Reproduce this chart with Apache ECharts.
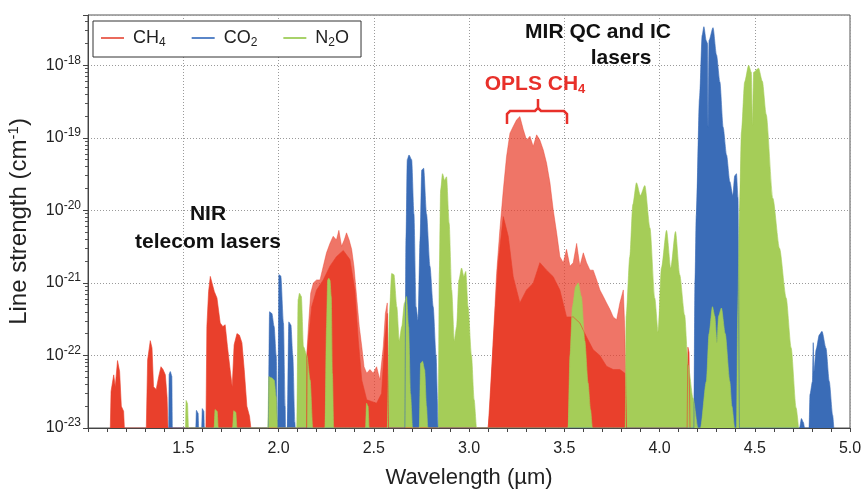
<!DOCTYPE html>
<html><head><meta charset="utf-8">
<script src="https://cdn.jsdelivr.net/npm/echarts@6/dist/echarts.min.js"></script>
<style>html,body{margin:0;padding:0;background:#fff}#c{width:862px;height:489px}</style>
</head><body><div id="c"></div>
<script>
// ---- data: [wavelength (µm), line strength (cm^-1)] envelope points ----
const CH4_LINES = [
 [2.147,1e-23],[2.149,1.07e-22],[2.157,2.5e-22],[2.169,7.2e-22],[2.183,1.0e-21],[2.2,1.1e-21],[2.218,1.1e-21],[2.235,1.7e-21],[2.252,2.6e-21],[2.27,3.5e-21],[2.287,4.4e-21],[2.304,3.9e-21],[2.317,5.3e-21],[2.331,3.2e-21],[2.345,3.9e-21],[2.357,4.9e-21],[2.371,3.9e-21],[2.384,2.9e-21],[2.396,1.7e-21],[2.41,6.5e-22],[2.424,2.5e-22],[2.437,1.33e-22],[2.449,7.0e-23],[2.463,5.7e-23],[2.48,6.4e-23],[2.497,5.7e-23],[2.515,7e-23],[2.532,4.6e-23],[2.55,1.33e-22],[2.561,3.8e-22],[2.571,5.3e-22],[2.577,1e-23],
 [3.1,1e-23],[3.11,1.8e-23],[3.127,1.6e-22],[3.145,1.36e-21],[3.162,5.4e-21],[3.18,1.9e-20],[3.197,5.5e-20],[3.215,1.16e-19],[3.232,1.43e-19],[3.25,1.77e-19],[3.267,1.96e-19],[3.285,1.3e-19],[3.302,9.3e-20],[3.32,1.05e-19],[3.337,7.6e-20],[3.355,1.1e-19],[3.372,9.3e-20],[3.39,6.8e-20],[3.407,4.5e-20],[3.425,2.4e-20],[3.442,1.02e-20],[3.46,4.9e-21],[3.477,2.3e-21],[3.495,1.9e-21],[3.512,2.9e-21],[3.53,1.7e-21],[3.547,1.9e-21],[3.565,3.5e-21],[3.582,1.7e-21],[3.6,2.6e-21],[3.617,1.9e-21],[3.635,1.5e-21],[3.652,1.5e-21],[3.67,1.1e-21],[3.687,8.0e-22],[3.705,6.5e-22],[3.722,5.3e-22],[3.74,4.3e-22],[3.757,3.4e-22],[3.775,3.1e-22],[3.792,5.3e-22],[3.81,8e-22],[3.818,2.2e-22],[3.827,1e-23]
];
const CH4_CORE = [
 [1.117,1e-23],[1.121,3.2e-23],[1.135,5.4e-23],[1.143,3.7e-23],[1.155,8.5e-23],[1.166,6.0e-23],[1.175,2.0e-23],[1.187,1.7e-23],[1.191,1e-23],
 [1.306,1e-23],[1.313,8.7e-23],[1.327,1.6e-22],[1.336,1.27e-22],[1.344,3.7e-23],[1.358,3.4e-23],[1.371,5.1e-23],[1.383,7.0e-23],[1.394,6.4e-23],[1.406,5.4e-23],[1.415,2.7e-23],[1.42,1e-23],
 [1.619,1e-23],[1.624,2.5e-22],[1.633,7.6e-22],[1.642,1.23e-21],[1.652,1.3e-21],[1.663,7.6e-22],[1.677,6.2e-22],[1.694,2.8e-22],[1.708,2.5e-22],[1.72,2.65e-22],[1.732,1.33e-22],[1.746,6.4e-23],[1.757,3.7e-23],[1.767,1.4e-22],[1.782,2.0e-22],[1.795,1.9e-22],[1.808,1.5e-22],[1.82,6.4e-23],[1.834,2.0e-23],[1.848,1.45e-23],[1.855,1e-23],
 [2.148,1e-23],[2.15,1.07e-22],[2.174,4.7e-22],[2.2,8e-22],[2.235,1.1e-21],[2.27,1.7e-21],[2.304,2.3e-21],[2.34,2.8e-21],[2.375,2.1e-21],[2.401,8e-22],[2.419,1.6e-22],[2.437,4.6e-23],[2.463,2.45e-23],[2.515,2.2e-23],[2.541,3e-23],[2.558,1.6e-22],[2.571,3.8e-22],[2.577,1e-23],
 [3.101,1e-23],[3.127,1.48e-22],[3.153,1.9e-21],[3.18,8.2e-21],[3.206,4.4e-21],[3.232,1.22e-21],[3.267,5.3e-22],[3.302,8e-22],[3.337,9.9e-22],[3.372,1.9e-21],[3.407,1.5e-21],[3.442,1.22e-21],[3.477,8e-22],[3.512,3.4e-22],[3.547,3.4e-22],[3.582,2.8e-22],[3.617,1.8e-22],[3.652,1.2e-22],[3.687,1.0e-22],[3.722,7.1e-23],[3.757,6.4e-23],[3.792,6.4e-23],[3.818,5.7e-23],[3.827,1e-23],
 [4.145,1e-23],[4.149,1.3e-22],[4.155,1.1e-22],[4.16,1e-23]
];
const CO2 = [
 [1.424,1e-23],[1.426,5.5e-23],[1.432,6.0e-23],[1.44,5.2e-23],[1.443,1e-23],
 [1.566,1e-23],[1.569,1.75e-23],[1.578,1.6e-23],[1.581,1e-23],
 [1.597,1e-23],[1.6,1.85e-23],[1.608,1.7e-23],[1.611,1e-23],
 [1.946,1e-23],[1.953,4.0e-22],[1.965,3.8e-22],[1.977,2.5e-22],[1.988,1e-22],[1.995,1.3e-23],
 [1.997,1e-23],[2.002,1.3e-21],[2.012,1.25e-21],[2.026,2.8e-22],[2.035,2e-23],[2.037,1e-23],
 [2.046,1e-23],[2.054,2.9e-22],[2.065,2.65e-22],[2.075,1e-22],[2.086,1.2e-23],[2.088,1e-23],
 [2.663,1e-23],[2.669,3.9e-21],[2.676,5.0e-20],[2.685,5.8e-20],[2.699,5e-20],[2.711,8.9e-21],[2.722,4.7e-22],[2.733,3e-22],[2.743,3.9e-21],[2.752,3.6e-20],[2.762,3.8e-20],[2.777,8.9e-21],[2.795,1.7e-21],[2.812,4.7e-22],[2.827,1.0e-22],[2.839,1e-23],
 [4.18,1e-23],[4.186,1e-21],[4.193,8.7e-21],[4.21,3.5e-19],[4.224,2.6e-18],[4.233,3.4e-18],[4.245,2.2e-18],[4.252,2.0e-18],[4.256,1.4e-19],[4.26,2.2e-18],[4.281,3.3e-18],[4.299,1.4e-18],[4.317,5.9e-19],[4.334,1.4e-19],[4.352,5.8e-20],[4.369,2.5e-20],[4.385,1.6e-20],[4.395,3e-20],[4.404,3.2e-20],[4.412,1.5e-20],[4.42,1e-23],
 [4.735,1e-23],[4.745,1.35e-23],[4.755,1.2e-23],[4.762,1e-23],
 [4.785,1e-23],[4.79,2.9e-23],[4.803,4.4e-23],[4.807,1.5e-22],[4.811,6e-23],[4.822,1.2e-22],[4.839,1.93e-22],[4.853,2.15e-22],[4.874,1.26e-22],[4.891,4.4e-23],[4.909,1.5e-23],[4.915,1e-23]
];
const N2O = [
 [1.512,1e-23],[1.515,2.4e-23],[1.522,2.2e-23],[1.528,1e-23],
 [1.662,1e-23],[1.667,1.8e-23],[1.678,1.7e-23],[1.684,1e-23],
 [1.759,1e-23],[1.765,1.73e-23],[1.776,1.65e-23],[1.782,1e-23],
 [1.944,1e-23],[1.949,5.1e-23],[1.965,4.9e-23],[1.977,4.6e-23],[1.988,2.7e-23],[1.996,1e-23],
 [2.096,1e-23],[2.103,5.9e-22],[2.11,7.2e-22],[2.12,6.5e-22],[2.131,1.33e-22],[2.149,1.0e-22],[2.166,4.6e-23],[2.18,1e-23],
 [2.244,1e-23],[2.252,2.5e-22],[2.258,1.1e-21],[2.264,1.16e-21],[2.27,1.1e-21],[2.277,6.5e-22],[2.283,5.7e-23],[2.29,1e-23],
 [2.457,1e-23],[2.462,2.2e-23],[2.47,2e-23],[2.476,1e-23],
 [2.571,1e-23],[2.582,3.8e-22],[2.594,1.35e-21],[2.606,1.3e-21],[2.621,4.7e-22],[2.634,1.6e-22],[2.647,2.5e-22],[2.661,5.3e-22],[2.672,6.5e-22],[2.683,2.5e-22],[2.693,3.0e-23],[2.704,1e-23],
 [2.739,1e-23],[2.746,7.8e-23],[2.756,8.3e-23],[2.767,6.4e-23],[2.777,2.0e-23],[2.784,1e-23],
 [2.839,1e-23],[2.844,1.35e-21],[2.851,1.9e-20],[2.861,3.2e-20],[2.872,2.6e-20],[2.882,2.9e-20],[2.896,6.6e-21],[2.909,8.0e-22],[2.923,1.6e-22],[2.935,2.5e-22],[2.947,1.1e-21],[2.961,1.6e-21],[2.973,1.23e-21],[2.983,1.44e-21],[2.995,4.7e-22],[3.013,1.0e-22],[3.027,2.45e-23],[3.04,1e-23],
 [3.52,1e-23],[3.53,1e-22],[3.543,4.7e-22],[3.56,8.9e-22],[3.573,1.0e-21],[3.59,6.5e-22],[3.608,1.6e-22],[3.625,4.2e-23],[3.638,1.8e-23],[3.648,1e-23],
 [3.82,1e-23],[3.825,3.5e-22],[3.844,2.3e-21],[3.86,1.2e-20],[3.879,2.4e-20],[3.9,1.6e-20],[3.923,2.2e-20],[3.95,5.7e-21],[3.975,6.2e-22],[3.993,2.1e-22],[4.01,1.6e-21],[4.037,5.3e-21],[4.059,1.6e-21],[4.084,5.1e-21],[4.106,1.3e-21],[4.132,3.6e-22],[4.15,7.4e-23],[4.176,2.6e-23],[4.202,1e-23],
 [4.215,1e-23],[4.246,4.4e-23],[4.26,2e-22],[4.278,4.7e-22],[4.29,3.5e-22],[4.302,1.5e-22],[4.31,3.5e-22],[4.325,4.5e-22],[4.345,2e-22],[4.369,4.4e-23],[4.38,2e-23],[4.395,1e-23],
 [4.405,1e-23],[4.41,3e-22],[4.42,1e-20],[4.43,1.2e-19],[4.447,5.9e-19],[4.468,1.0e-18],[4.482,8e-19],[4.488,1.5e-19],[4.494,8e-19],[4.52,9.1e-19],[4.54,6e-19],[4.56,2.1e-19],[4.595,1.47e-20],[4.63,3.0e-21],[4.665,6.2e-22],[4.691,1.28e-22],[4.717,1.9e-23],[4.73,1e-23]
];
const SPECIES = ['CH4', 'CO2', 'N2O'];
const SPECIES_LABELS = {CH4: 'CH{s|4}', CO2: 'CO{s|2}', N2O: 'N{s|2}O'};
const X_LABELS = [1.5, 2.0, 2.5, 3.0, 3.5, 4.0, 4.5, 5.0];
const Y_MIN = 1e-23, Y_MAX = 4.93e-18;
const Y_DECADES = [-23, -22, -21, -20, -19, -18];
const MINOR_MULTIPLES = [2, 3, 4, 5, 6, 7, 8, 9];

// ECharts' log scale rounds tick values to 20 decimals, so the axis runs in units of 1e-24 cm^-1;
// tick labels convert back to the true exponent.
const UNIT_EXP = -24;
const U = Math.pow(10, UNIT_EXP);
const toUnits = pts => pts.map(([x, s]) => [x, s / U]);
const minorTicks = [];
Y_DECADES.forEach(e => MINOR_MULTIPLES.forEach(m => {
  const v = m * Math.pow(10, e);
  if (v < Y_MAX) minorTicks.push(v / U);
}));

const FONT = '"Liberation Sans", Arial, Helvetica, sans-serif';
const RED = '#e9402c', BLUE = '#3a6cb7', GREEN = '#a5cd58';

function band(name, data, color, opacity, smooth) {
  return {
    name, type: 'line', data: toUnits(data), symbol: 'none', showSymbol: false,
    smooth: smooth || false, smoothMonotone: 'x', clip: true, yAxisIndex: 0,
    lineStyle: {width: 0.6, color, opacity},
    areaStyle: {color, opacity, origin: 'start'},
    emphasis: {disabled: true}, silent: true
  };
}

const chart = echarts.init(document.getElementById('c'));
chart.setOption({
  animation: false,
  grid: {left: 88, right: 12, top: 15, bottom: 61, show: true, borderColor: '#555', borderWidth: 1,
    outerBoundsMode: 'none', containLabel: false},
  legend: {
    left: 93, top: 21, padding: [8, 12, 8, 8],
    borderColor: '#333', borderWidth: 1, backgroundColor: '#fff',
    itemWidth: 23, itemHeight: 2, itemGap: 26, icon: 'rect', selectedMode: false,
    data: [
      {name: SPECIES[0], itemStyle: {color: '#ea6a5c'}},
      {name: SPECIES[1], itemStyle: {color: '#5a86c8'}},
      {name: SPECIES[2], itemStyle: {color: '#a8d26a'}}
    ],
    formatter: n => SPECIES_LABELS[n],
    textStyle: {fontFamily: FONT, fontSize: 18, color: '#222', padding: [0, 0, 0, 4],
      rich: {s: {fontFamily: FONT, fontSize: 12, color: '#222', padding: [10, 0, 0, 0]}}}
  },
  xAxis: {
    type: 'value', min: 1.0, max: 5.0, interval: 0.5,
    name: 'Wavelength (µm)', nameLocation: 'middle', nameGap: 39,
    nameTextStyle: {fontFamily: FONT, fontSize: 22, color: '#222'},
    axisLine: {lineStyle: {color: '#444'}},
    axisTick: {length: 4, lineStyle: {color: '#444'}},
    minorTick: {show: true, splitNumber: 5, length: 4, lineStyle: {color: '#444'}},
    splitLine: {show: true, lineStyle: {type: [1, 2], color: '#9a9a9a'}},
    axisLabel: {
      fontFamily: FONT, fontSize: 16, color: '#222', margin: 13,
      formatter: v => {
        const hit = X_LABELS.find(t => Math.abs(t - v) < 1e-6);
        return hit === undefined ? '' : hit.toFixed(1);
      }
    }
  },
  yAxis: [{
    type: 'log', logBase: 10, min: Y_MIN / U, max: Y_MAX / U,
    name: 'Line strength (cm{sup|-1})', nameLocation: 'middle', nameGap: 56,
    nameTextStyle: {fontFamily: FONT, fontSize: 24, color: '#222',
      rich: {sup: {fontFamily: FONT, fontSize: 15, color: '#222', padding: [0, 0, 11, 0]}}},
    axisLine: {show: true, lineStyle: {color: '#444'}},
    axisTick: {length: 5, lineStyle: {color: '#444'}},
    splitLine: {show: true, lineStyle: {type: [1, 2], color: '#9a9a9a'}},
    axisLabel: {
      fontFamily: FONT, fontSize: 16, color: '#222', margin: 7,
      formatter: v => {
        const e = Math.log10(v);
        if (Math.abs(e - Math.round(e)) > 0.01) return '';
        return '10{sup|' + (Math.round(e) + UNIT_EXP) + '}';
      },
      rich: {sup: {fontFamily: FONT, fontSize: 12, color: '#222', padding: [0, 0, 10, 0]}}
    }
  }, {
    type: 'log', logBase: 10, min: Y_MIN / U, max: Y_MAX / U, position: 'left', offset: 0,
    axisLine: {show: false}, splitLine: {show: false},
    axisLabel: {show: false},
    axisTick: {show: true, length: 3, customValues: minorTicks, lineStyle: {color: '#555'}}
  }],
  series: [
    band(SPECIES[0], CH4_LINES, RED, 0.72),
    band(SPECIES[0], CH4_CORE, RED, 1),
    band(SPECIES[1], CO2, BLUE, 1, 0.25),
    band(SPECIES[2], N2O, GREEN, 1, 0.25)
  ],
  graphic: [
    {type: 'text', z: 100, style: {x: 208, y: 214, text: 'NIR', textAlign: 'center', textVerticalAlign: 'middle', font: 'bold 21px ' + FONT, fill: '#111'}},
    {type: 'text', z: 100, style: {x: 208, y: 242, text: 'telecom lasers', textAlign: 'center', textVerticalAlign: 'middle', font: 'bold 21px ' + FONT, fill: '#111'}},
    {type: 'text', z: 100, style: {x: 598, y: 32, text: 'MIR QC and IC', textAlign: 'center', textVerticalAlign: 'middle', font: 'bold 21px ' + FONT, fill: '#111'}},
    {type: 'text', z: 100, style: {x: 621, y: 58, text: 'lasers', textAlign: 'center', textVerticalAlign: 'middle', font: 'bold 21px ' + FONT, fill: '#111'}},
    {type: 'text', z: 100, style: {x: 535, y: 84, text: 'OPLS CH{s|4}', textAlign: 'center', textVerticalAlign: 'middle', font: 'bold 21px ' + FONT, fill: '#e8302a',
      rich: {s: {font: 'bold 13px ' + FONT, fill: '#e8302a', padding: [10, 0, 0, 0]}}}},
    {type: 'polyline', z: 100, shape: {points: [[507, 124], [507, 114], [510, 111], [535, 111], [538, 108], [538, 99]]}, style: {stroke: '#e8302a', lineWidth: 2.5, fill: null}},
    {type: 'polyline', z: 100, shape: {points: [[538, 108], [541, 111], [564, 111], [567, 114], [567, 124]]}, style: {stroke: '#e8302a', lineWidth: 2.5, fill: null}}
  ]
});
</script></body></html>
